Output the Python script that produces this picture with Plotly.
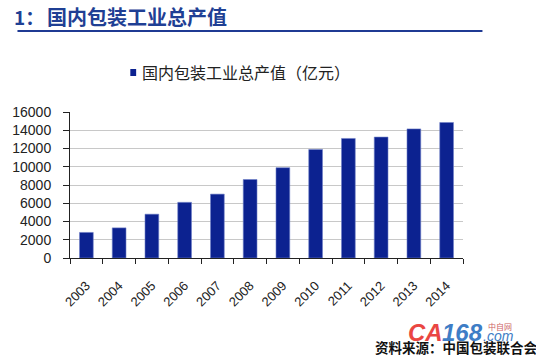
import plotly.graph_objects as go

years = ["2003", "2004", "2005", "2006", "2007", "2008", "2009", "2010", "2011", "2012", "2013", "2014"]
values = [2800, 3300, 4800, 6100, 7000, 8600, 9900, 11900, 13100, 13250, 14150, 14850]
y_ticks = [0, 2000, 4000, 6000, 8000, 10000, 12000, 14000, 16000]
y_tick_labels = [str(v) for v in y_ticks]

title_prefix = "1："
title_text = "国内包装工业总产值"
legend_text = "国内包装工业总产值（亿元）"
source_text = "资料来源：中国包装联合会"

W, H = 536, 356
L, R, T, B = 59, 73, 112, 98
PW, PH = W - L - R, H - T - B

def px(x):
    return (x - L) / PW

def py(y):
    return (H - B - y) / PH

fig = go.Figure()
fig.add_trace(go.Bar(
    x=years, y=values,
    marker=dict(color="#0C2290", line=dict(color="#6f80c8", width=0.6)),
    width=0.42,
    showlegend=False,
))

CJK = "Noto Sans CJK SC"
NUM = "Liberation Sans, Arial, sans-serif"

fig.update_layout(
    width=W, height=H,
    margin=dict(l=L, r=R, t=T, b=B, pad=0),
    paper_bgcolor="white", plot_bgcolor="white",
    xaxis=dict(
        type="category",
        showline=True, linecolor="#222", linewidth=1,
        ticks="outside", ticklen=5, tickcolor="#222", tickson="boundaries",
        tickangle=-45, tickfont=dict(family=NUM, size=13, color="#222"),
        ticklabelstandoff=14,
        showgrid=False,
    ),
    yaxis=dict(
        range=[0, 16000], tickvals=y_ticks, ticktext=y_tick_labels,
        showline=True, linecolor="#222", linewidth=1,
        ticks="outside", ticklen=6, tickcolor="#222",
        tickfont=dict(family=NUM, size=14, color="#222"),
        ticklabelstandoff=9,
        showgrid=True, gridcolor="#c8c8c8", gridwidth=1,
        zeroline=False,
    ),
    shapes=[
        dict(type="line", xref="paper", yref="paper",
             x0=px(5), x1=px(483), y0=py(31), y1=py(31),
             line=dict(color="#1F3A93", width=2)),
        dict(type="rect", xref="paper", yref="paper",
             x0=px(121), x1=px(127), y0=py(76), y1=py(69),
             fillcolor="#0C2290", line=dict(width=0)),
    ],
    annotations=[
        dict(text="<b>" + title_prefix + "</b>", xref="paper", yref="paper",
             x=px(34), y=py(16), xanchor="right", yanchor="middle", showarrow=False,
             font=dict(family=CJK, size=19, color="#1F3F94")),
        dict(text="<b>" + title_text + "</b>", xref="paper", yref="paper",
             x=px(33), y=py(16), xanchor="left", yanchor="middle", showarrow=False,
             font=dict(family=CJK, size=20, color="#1F3F94")),
        dict(text=legend_text, xref="paper", yref="paper",
             x=px(131), y=py(72), xanchor="left", yanchor="middle", showarrow=False,
             font=dict(family=CJK, size=16, color="#222")),
        dict(text="<b><i>CA</i></b>", xref="paper", yref="paper",
             x=px(404), y=py(332), xanchor="left", yanchor="middle", showarrow=False,
             font=dict(family="Liberation Sans, sans-serif", size=24, color="#E8322E"), opacity=0.9),
        dict(text="<b><i>168</i></b>", xref="paper", yref="paper",
             x=px(439), y=py(332), xanchor="left", yanchor="middle", showarrow=False,
             font=dict(family="Liberation Sans, sans-serif", size=24, color="#2A6FC0"), opacity=0.9),
        dict(text="<i>.com</i>", xref="paper", yref="paper",
             x=px(482), y=py(336), xanchor="left", yanchor="middle", showarrow=False,
             font=dict(family="Liberation Sans, sans-serif", size=14, color="#2A6FC0"), opacity=0.9),
        dict(text="中自网", xref="paper", yref="paper",
             x=px(487), y=py(326), xanchor="left", yanchor="middle", showarrow=False,
             font=dict(family=CJK, size=8, color="#C85050"), opacity=0.9),
        dict(text="<b>" + source_text + "</b>", xref="paper", yref="paper",
             x=px(370), y=py(347), xanchor="left", yanchor="middle", showarrow=False,
             font=dict(family=CJK, size=13.5, color="#111")),
    ],
)

fig.write_html("out.html", config={"displayModeBar": False},
               post_script="document.body.style.margin='0px';document.body.style.padding='0px';")
